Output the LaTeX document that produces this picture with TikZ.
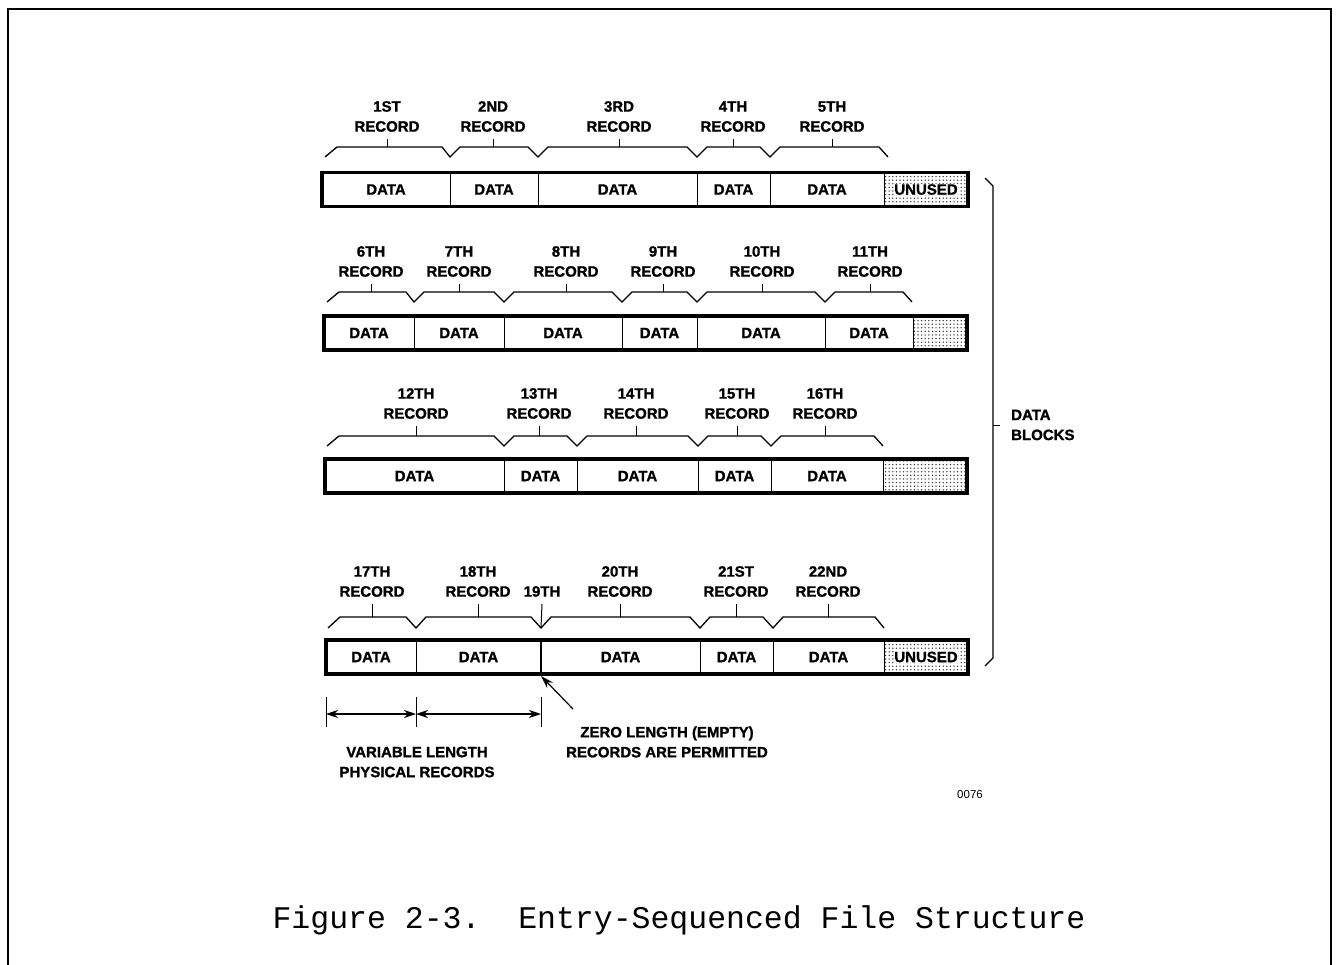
\documentclass[tikz,border=0pt]{standalone}
\usepackage{fontspec}
\usetikzlibrary{positioning,patterns,arrows.meta}
\newfontfamily\helvfont{Liberation Sans}[BoldFeatures={FakeBold=1.2}]
\newfontfamily\courfont{Liberation Mono}
\newcommand\reclbl{\fontsize{15}{20}\selectfont\helvfont\bfseries}
\pgfdeclarepatternformonly{coarsedots}{\pgfqpoint{-1pt}{-1pt}}{\pgfqpoint{1pt}{1pt}}{\pgfqpoint{3.6pt}{3.6pt}}%
  {\pgfpathcircle{\pgfqpoint{0pt}{0pt}}{0.75pt}\pgfusepath{fill}}
\frenchspacing

\begin{document}
\begin{tikzpicture}[x=1pt,y=-1pt,
  rec/.style={font=\reclbl,align=center,inner sep=0pt,anchor=south},
  cell/.style={draw,line width=0.9pt,minimum height=34pt,inner sep=0pt,outer sep=0pt,font=\reclbl},
  unused/.style={pattern=coarsedots,pattern color=black!80},
  blk/.style={draw,line width=3.2pt},
  brc/.style={line width=1.3pt,line join=miter},
  tick/.style={line width=1pt},
  dim/.style={line width=1.1pt,{Stealth[length=12pt,width=8pt]}-{Stealth[length=12pt,width=8pt]}}]
\useasboundingbox (0,0) rectangle (1336,965);
\draw[line width=1.5pt] (8,965) -- (8,9) -- (1331,9) -- (1331,965);

% first block
\node[cell,minimum width=128pt,anchor=west] (a1) at (322,189.5) {DATA};
\node[cell,minimum width=88pt,right=0pt of a1] (a2) {DATA};
\node[cell,minimum width=159pt,right=0pt of a2] (a3) {DATA};
\node[cell,minimum width=73pt,right=0pt of a3] (a4) {DATA};
\node[cell,minimum width=114pt,right=0pt of a4] (a5) {DATA};
\node[cell,unused,minimum width=84pt,right=0pt of a5,
  label={[font=\reclbl,fill=white,inner sep=0.3pt]center:UNUSED}] (a6) {};
\draw[blk] (a1.north west) rectangle (a6.south east);
\node[rec] (rec1) at (387,132) {1ST\\RECORD};
\node[rec] (rec2) at (493,132) {2ND\\RECORD};
\node[rec] (rec3) at (619,132) {3RD\\RECORD};
\node[rec] (rec4) at (733,132) {4TH\\RECORD};
\node[rec] (rec5) at (832,132) {5TH\\RECORD};
\coordinate (top1) at (0,147);
\draw[brc] (325,157) -- (337,147) -- (442,147) -- (450,157) -- (460,147) -- (528,147)
  -- (538,157) -- (548,147) -- (687,147) -- (697,157) -- (707,147) -- (760,147)
  -- (770,157) -- (780,147) -- (879,147) -- (888,157);
\draw[tick] ([yshift=-7pt]rec1.south) -- (rec1.south |- top1);
\draw[tick] ([yshift=-7pt]rec2.south) -- (rec2.south |- top1);
\draw[tick] ([yshift=-7pt]rec3.south) -- (rec3.south |- top1);
\draw[tick] ([yshift=-7pt]rec4.south) -- (rec4.south |- top1);
\draw[tick] ([yshift=-7pt]rec5.south) -- (rec5.south |- top1);

% second block
\node[cell,minimum width=90pt,anchor=west] (b1) at (324,333) {DATA};
\node[cell,minimum width=90pt,right=0pt of b1] (b2) {DATA};
\node[cell,minimum width=118pt,right=0pt of b2] (b3) {DATA};
\node[cell,minimum width=75pt,right=0pt of b3] (b4) {DATA};
\node[cell,minimum width=128pt,right=0pt of b4] (b5) {DATA};
\node[cell,minimum width=88pt,right=0pt of b5] (b6) {DATA};
\node[cell,unused,minimum width=54pt,right=0pt of b6] (b7) {};
\draw[blk] (b1.north west) rectangle (b7.south east);
\node[rec] (rec6) at (371,277) {6TH\\RECORD};
\node[rec] (rec7) at (459,277) {7TH\\RECORD};
\node[rec] (rec8) at (566,277) {8TH\\RECORD};
\node[rec] (rec9) at (663,277) {9TH\\RECORD};
\node[rec] (rec10) at (762,277) {10TH\\RECORD};
\node[rec] (rec11) at (870,277) {11TH\\RECORD};
\coordinate (top2) at (0,292);
\draw[brc] (327,302) -- (339,292) -- (406,292) -- (414,302) -- (424,292) -- (494,292)
  -- (504,302) -- (514,292) -- (612,292) -- (622,302) -- (632,292) -- (687,292)
  -- (697,302) -- (707,292) -- (815,292) -- (825,302) -- (835,292) -- (903,292) -- (912,302);
\draw[tick] ([yshift=-7pt]rec6.south) -- (rec6.south |- top2);
\draw[tick] ([yshift=-7pt]rec7.south) -- (rec7.south |- top2);
\draw[tick] ([yshift=-7pt]rec8.south) -- (rec8.south |- top2);
\draw[tick] ([yshift=-7pt]rec9.south) -- (rec9.south |- top2);
\draw[tick] ([yshift=-7pt]rec10.south) -- (rec10.south |- top2);
\draw[tick] ([yshift=-7pt]rec11.south) -- (rec11.south |- top2);

% third block
\node[cell,minimum width=179pt,anchor=west] (c1) at (325,476) {DATA};
\node[cell,minimum width=73pt,right=0pt of c1] (c2) {DATA};
\node[cell,minimum width=121pt,right=0pt of c2] (c3) {DATA};
\node[cell,minimum width=73pt,right=0pt of c3] (c4) {DATA};
\node[cell,minimum width=112pt,right=0pt of c4] (c5) {DATA};
\node[cell,unused,minimum width=84pt,right=0pt of c5] (c6) {};
\draw[blk] (c1.north west) rectangle (c6.south east);
\node[rec] (rec12) at (416,419) {12TH\\RECORD};
\node[rec] (rec13) at (539,419) {13TH\\RECORD};
\node[rec] (rec14) at (636,419) {14TH\\RECORD};
\node[rec] (rec15) at (737,419) {15TH\\RECORD};
\node[rec] (rec16) at (825,419) {16TH\\RECORD};
\coordinate (top3) at (0,436);
\draw[brc] (327,446) -- (339,436) -- (494,436) -- (504,446) -- (514,436) -- (567,436)
  -- (577,446) -- (587,436) -- (688,436) -- (698,446) -- (708,436) -- (761,436)
  -- (771,446) -- (781,436) -- (874,436) -- (883,446);
\draw[tick] ([yshift=-7pt]rec12.south) -- (rec12.south |- top3);
\draw[tick] ([yshift=-7pt]rec13.south) -- (rec13.south |- top3);
\draw[tick] ([yshift=-7pt]rec14.south) -- (rec14.south |- top3);
\draw[tick] ([yshift=-7pt]rec15.south) -- (rec15.south |- top3);
\draw[tick] ([yshift=-7pt]rec16.south) -- (rec16.south |- top3);

% fourth block
\node[cell,minimum width=90pt,anchor=west] (d1) at (326,657) {DATA};
\node[cell,minimum width=125pt,right=0pt of d1] (d2) {DATA};
\node[cell,minimum width=159pt,right=0pt of d2] (d3) {DATA};
\node[cell,minimum width=73pt,right=0pt of d3] (d4) {DATA};
\node[cell,minimum width=111pt,right=0pt of d4] (d5) {DATA};
\node[cell,unused,minimum width=84pt,right=0pt of d5,
  label={[font=\reclbl,fill=white,inner sep=0.3pt]center:UNUSED}] (d6) {};
\draw[blk] (d1.north west) rectangle (d6.south east);
\draw[line width=1.8pt] (d3.north west) -- (d3.south west);
\node[rec] (rec17) at (372,597) {17TH\\RECORD};
\node[rec] (rec18) at (478,597) {18TH\\RECORD};
\node[rec] (rec19) at (542,597) {19TH};
\node[rec] (rec20) at (620,597) {20TH\\RECORD};
\node[rec] (rec21) at (736,597) {21ST\\RECORD};
\node[rec] (rec22) at (828,597) {22ND\\RECORD};
\coordinate (top4) at (0,617);
\coordinate (v19) at (541,628);
\draw[brc] (328,628) -- (340,617) -- (406,617) -- (416,628) -- (426,617) -- (531,617)
  -- (v19) -- (551,617) -- (690,617) -- (700,628) -- (710,617) -- (763,617)
  -- (773,628) -- (783,617) -- (875,617) -- (884,628);
\draw[tick] ([yshift=-7pt]rec17.south) -- (rec17.south |- top4);
\draw[tick] ([yshift=-7pt]rec18.south) -- (rec18.south |- top4);
\draw[tick] ([yshift=-7pt]rec19.south) -- (v19);
\draw[tick] ([yshift=-7pt]rec20.south) -- (rec20.south |- top4);
\draw[tick] ([yshift=-7pt]rec21.south) -- (rec21.south |- top4);
\draw[tick] ([yshift=-7pt]rec22.south) -- (rec22.south |- top4);

% right brace
\coordinate (bt) at (993,425);
\draw[brc] (985,178) -- (993,186) -- (993,658) -- (985,666);
\node[font=\reclbl,align=left,inner sep=0pt,anchor=west] (blocks) at (1011,425) {DATA\\BLOCKS};
\draw[tick] (bt) -- ([xshift=-11pt]blocks.west);

% notes below
\coordinate (m0) at (0,697);
\coordinate (m1) at (0,727);
\coordinate (mm) at (0,714);
\draw[tick] (d1.south west |- m0) -- (d1.south west |- m1);
\draw[tick] (d2.south west |- m0) -- (d2.south west |- m1);
\draw[tick] (d3.south west |- m0) -- (d3.south west |- m1);
\draw[dim] (d1.south west |- mm) -- (d2.south west |- mm);
\draw[dim] (d2.south west |- mm) -- (d3.south west |- mm);
\node[font=\reclbl,align=center,inner sep=0pt] (varlen) at (417,762) {VARIABLE LENGTH\\PHYSICAL RECORDS};
\node[font=\reclbl,align=center,inner sep=0pt] (zerolen) at (667,742) {ZERO LENGTH (EMPTY)\\RECORDS ARE PERMITTED};
\coordinate (zl) at (573,709);
\draw[line width=1.2pt,-{Stealth[length=13pt,width=8pt]}] (zl) -- ([yshift=-2pt]d3.south west);
\node[font=\fontsize{11.5}{13}\selectfont\helvfont,inner sep=0pt] (code) at (970,795) {0076};

\node[font=\fontsize{31.5}{36}\selectfont\courfont,anchor=base,inner sep=0pt] (cap) at (679,928)
  {Figure 2-3.\ \ Entry-Sequenced File Structure};
\end{tikzpicture}
\end{document}
